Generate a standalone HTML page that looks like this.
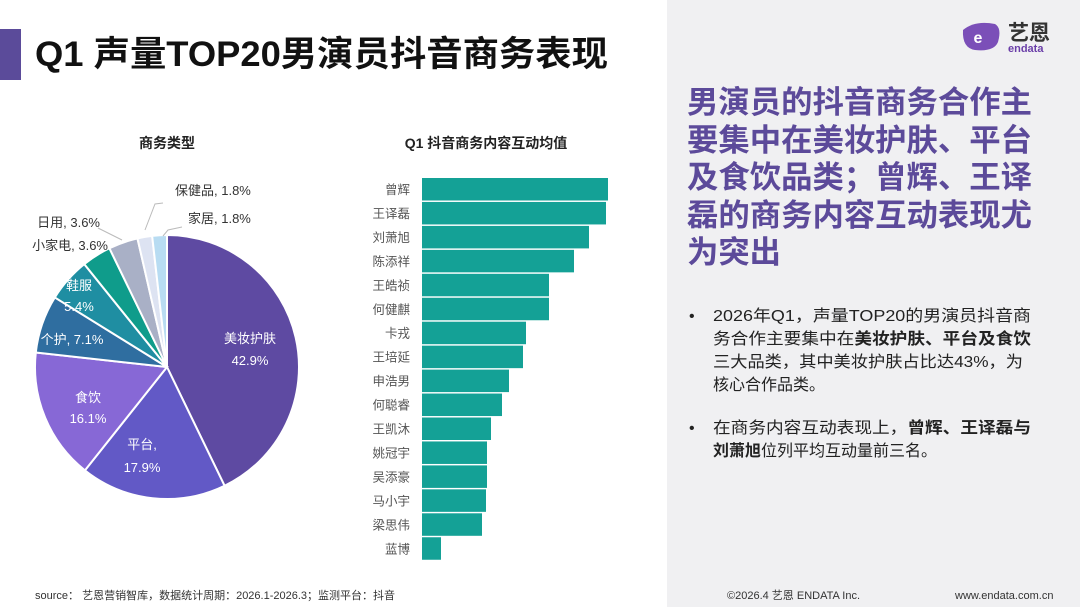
<!DOCTYPE html>
<html><head><meta charset="utf-8"><style>
html,body{margin:0;padding:0;background:#fff;}
svg{display:block;font-family:"Liberation Sans","Noto Sans CJK SC",sans-serif;}
</style></head><body>
<svg id="s" width="1080" height="607" viewBox="0 0 1080 607" xmlns="http://www.w3.org/2000/svg">
<rect x="0" y="0" width="1080" height="607" fill="#ffffff"/>
<rect x="667" y="0" width="413" height="607" fill="#f0f0f2"/>
<rect x="0" y="29" width="21" height="51" fill="#5b4b9a"/>
<text x="35" y="66" font-size="35" font-weight="bold" fill="#111" textLength="573" lengthAdjust="spacingAndGlyphs">Q1 声量TOP20男演员抖音商务表现</text>

<g>
<path d="M963 30 Q975 20 995 24 Q1002 28 998 42 Q994 52 975 50 Q962 48 963 30 Z" fill="#7b4fb8"/>
<text x="978" y="43" font-size="16" font-weight="bold" fill="#fff" text-anchor="middle">e</text>
<text x="1008" y="40" font-size="21" font-weight="bold" fill="#333">艺恩</text>
<text x="1008" y="52" font-size="11" fill="#6a3ea8" font-weight="bold">endata</text>
</g>

<g fill="#5c4a9a" font-size="31" font-weight="bold">
<text x="687" y="113" textLength="345" lengthAdjust="spacingAndGlyphs">男演员的抖音商务合作主</text>
<text x="687" y="151" textLength="345" lengthAdjust="spacingAndGlyphs">要集中在美妆护肤、平台</text>
<text x="687" y="188" textLength="345" lengthAdjust="spacingAndGlyphs">及食饮品类；曾辉、王译</text>
<text x="687" y="226" textLength="345" lengthAdjust="spacingAndGlyphs">磊的商务内容互动表现尤</text>
<text x="687" y="263" textLength="94" lengthAdjust="spacingAndGlyphs">为突出</text>
</g>

<g fill="#222" font-size="16">
<text x="689" y="321">•</text>
<text x="713" y="321" textLength="318" lengthAdjust="spacingAndGlyphs">2026年Q1，声量TOP20的男演员抖音商</text>
<text x="713" y="344" textLength="318" lengthAdjust="spacingAndGlyphs">务合作主要集中在<tspan font-weight="bold">美妆护肤、平台及食饮</tspan></text>
<text x="713" y="367" textLength="310" lengthAdjust="spacingAndGlyphs">三大品类，其中美妆护肤占比达43%，为</text>
<text x="713" y="390">核心合作品类。</text>
<text x="689" y="433">•</text>
<text x="713" y="433" textLength="318" lengthAdjust="spacingAndGlyphs">在商务内容互动表现上，<tspan font-weight="bold">曾辉、王译磊与</tspan></text>
<text x="713" y="456"><tspan font-weight="bold">刘萧旭</tspan>位列平均互动量前三名。</text>
</g>

<text x="167" y="148" font-size="14" font-weight="bold" fill="#222" text-anchor="middle">商务类型</text>
<text x="486" y="148" font-size="14" font-weight="bold" fill="#222" text-anchor="middle">Q1 抖音商务内容互动均值</text>

<g id="pie"></g>
<g id="bars"></g>

<text x="35" y="599" font-size="11" fill="#333">source： 艺恩营销智库，数据统计周期：2026.1-2026.3；监测平台：抖音</text>
<text x="727" y="599" font-size="11" fill="#333">©2026.4 艺恩 ENDATA Inc.</text>
<text x="955" y="599" font-size="11" fill="#333">www.endata.com.cn</text>
</svg>
<script>
const NS="http://www.w3.org/2000/svg";
const pieCats=["美妆护肤","平台","食饮","个护","鞋服","小家电","日用","保健品","家居"];
const pieVals=[42.9,17.9,16.1,7.1,5.4,3.6,3.6,1.8,1.8];
const pieColors=["#5e4aa2","#6259c6","#8768d6","#2f6ea0","#1f8ea2","#0f9c8b","#a9b0c6","#dde3f2","#b8dcf2"];
const barNames=["曾辉","王译磊","刘萧旭","陈添祥","王皓祯","何健麒","卡戎","王培延","申浩男","何聪睿","王凯沐","姚冠宇","吴添豪","马小宇","梁思伟","蓝博"];
const barVals=[186,184,167,152,127,127,104,101,87,80,69,65,65,64,60,19];

function mk(tag,attrs,parent,txt){const e=document.createElementNS(NS,tag);for(const k in attrs)e.setAttribute(k,attrs[k]);if(txt!==undefined)e.textContent=txt;parent.appendChild(e);return e;}

// pie
const pie=document.getElementById('pie');
const cx=167,cy=367,R=132;
const total=pieVals.reduce((a,b)=>a+b,0);
function pt(a,r){return [cx+r*Math.sin(a),cy-r*Math.cos(a)];}
let a0=0;
const inside={0:[250,338,"42.9%"],1:[142,444,"17.9%"],2:[88,397,"16.1%"],4:[79,285,"5.4%"]};
pieVals.forEach((v,i)=>{
  const a1=a0+v/total*Math.PI*2;
  const p0=pt(a0,R),p1=pt(a1,R);
  const large=(a1-a0)>Math.PI?1:0;
  const s=mk('path',{d:`M${cx},${cy} L${p0[0]},${p0[1]} A${R},${R} 0 ${large} 1 ${p1[0]},${p1[1]} Z`,fill:pieColors[i],stroke:"#fff","stroke-width":2},pie);
  
  
  a0=a1;
});
function lbl(x,y,t,fill,anchor,name){const e=mk('text',{x:x,y:y,"font-size":13,fill:fill,"text-anchor":anchor},pie,t);}
lbl(250,343,pieCats[0],"#fff","middle","pie-label-0");lbl(250,365,pieVals[0]+"%","#fff","middle","pie-value-0");
lbl(142,449,pieCats[1]+",","#fff","middle","pie-label-1");lbl(142,472,pieVals[1]+"%","#fff","middle","pie-value-1");
lbl(88,402,pieCats[2],"#fff","middle","pie-label-2");lbl(88,423,pieVals[2]+"%","#fff","middle","pie-value-2");
lbl(72,344,pieCats[3]+", "+pieVals[3]+"%","#fff","middle","pie-label-3");
lbl(79,290,pieCats[4],"#fff","middle","pie-label-4");lbl(79,311,pieVals[4]+"%","#fff","middle","pie-value-4");
lbl(108,250,pieCats[5]+", "+pieVals[5]+"%","#333","end","pie-label-5");
lbl(100,227,pieCats[6]+", "+pieVals[6]+"%","#333","end","pie-label-6");
lbl(175,195,pieCats[7]+", "+pieVals[7]+"%","#333","start","pie-label-7");
lbl(188,223,pieCats[8]+", "+pieVals[8]+"%","#333","start","pie-label-8");
[[98,228,122,240],[163,203,155,204,145,230],[182,227,168,230,163,236]].forEach((l,i)=>{
  let d="M"+l[0]+","+l[1];for(let k=2;k<l.length;k+=2)d+=" L"+l[k]+","+l[k+1];
  const e=mk('path',{d:d,fill:"none",stroke:"#bbb","stroke-width":1},pie);
  
});

// bars
const bars=document.getElementById('bars');
const x0=422,top0=178,pitch=23.95,bh=22.5;
const xs=v=>v*(186/186);
barNames.forEach((n,i)=>{
  const y=top0+i*pitch;
  const r=mk('rect',{x:x0,y:y,width:xs(barVals[i]),height:bh,fill:"#14a196"},bars);
  
  
  const t=mk('text',{x:410,y:y+16,"font-size":12.5,fill:"#555","text-anchor":"end"},bars,n);
  
  
});
</script>
</body></html>
